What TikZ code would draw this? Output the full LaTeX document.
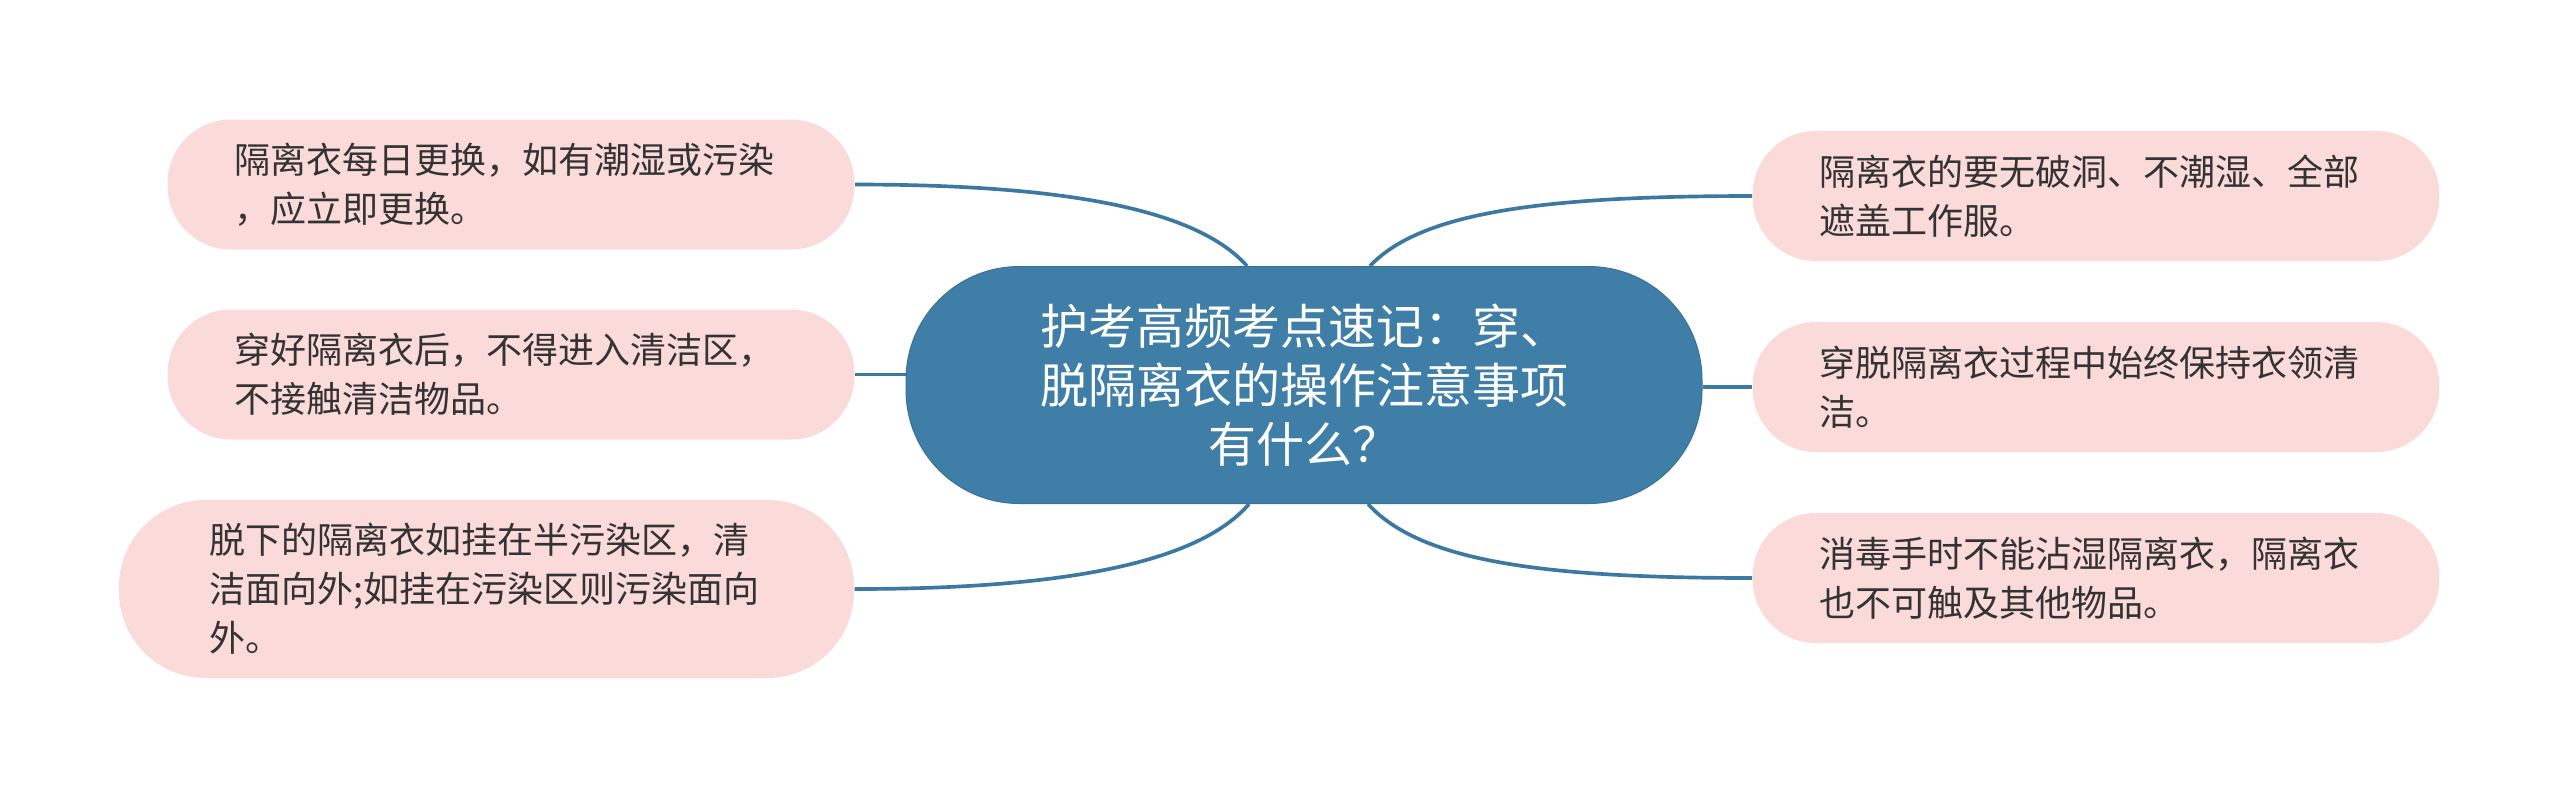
\documentclass[tikz,border=0pt]{standalone}
\usepackage{fontspec}
\setmainfont{Noto Sans CJK SC}
\usetikzlibrary{calc}
\definecolor{hub}{HTML}{3F7FA7}
\definecolor{leafpink}{HTML}{FBDADA}
\definecolor{inkgray}{HTML}{333333}
\definecolor{linkblue}{HTML}{3B79A2}
\begin{document}
\begin{tikzpicture}[x=0.3pt,y=-0.3pt,
  leafbox/.style={fill=leafpink, text=inkgray, rounded corners=19pt,
    minimum width=206pt, minimum height=39pt, text width=166pt, align=left,
    inner sep=0pt, font=\fontsize{10.8pt}{14.7pt}\selectfont},
  hubbox/.style={fill=hub, draw=hub!90!black, line width=0.3pt, text=white, rounded corners=34pt,
    minimum width=238.8pt, minimum height=71.1pt, align=center,
    inner sep=0pt, font=\fontsize{14.4pt}{17.6pt}\selectfont},
  conn/.style={draw=linkblue, line width=1.1pt}]
\fill[white] (0,0) rectangle (2560,799);
\useasboundingbox (0,0) rectangle (2560,799);

\node[hubbox] (C) at (1304,385) {护考高频考点速记：穿、\\脱隔离衣的操作注意事项\\有什么？};

\node[leafbox] (L1) at (511,184.5) {隔离衣每日更换，如有潮湿或污染\\，应立即更换。};
\node[leafbox] (L2) at (511,374.5) {穿好隔离衣后，不得进入清洁区，\\不接触清洁物品。};
\node[leafbox, minimum width=220.5pt, minimum height=53.4pt, rounded corners=26pt] (L3) at (486.5,589)
  {脱下的隔离衣如挂在半污染区，清\\洁面向外;如挂在污染区则污染面向\\外。};

\node[leafbox] (R1) at (2096,196) {隔离衣的要无破洞、不潮湿、全部\\遮盖工作服。};
\node[leafbox] (R2) at (2096,387) {穿脱隔离衣过程中始终保持衣领清\\洁。};
\node[leafbox] (R3) at (2096,578) {消毒手时不能沾湿隔离衣，隔离衣\\也不可触及其他物品。};

\draw[conn] (L1.east) .. controls +(225,0) and +(-47,-53) .. ([xshift=-17.1pt]C.north);
\draw[conn] (L2.east) -- (L2.east -| C.west);
\draw[conn] (L3.east) .. controls +(216,0) and +(-49,57) .. ([xshift=-16.5pt]C.south);
\draw[conn] ([xshift=19.8pt]C.north) .. controls +(50,-53) and +(-213,0) .. (R1.west);
\draw[conn] (C.east |- R2.west) -- (R2.west);
\draw[conn] ([xshift=19.2pt]C.south) .. controls +(52,57) and +(-212,0) .. (R3.west);
\end{tikzpicture}
\end{document}
